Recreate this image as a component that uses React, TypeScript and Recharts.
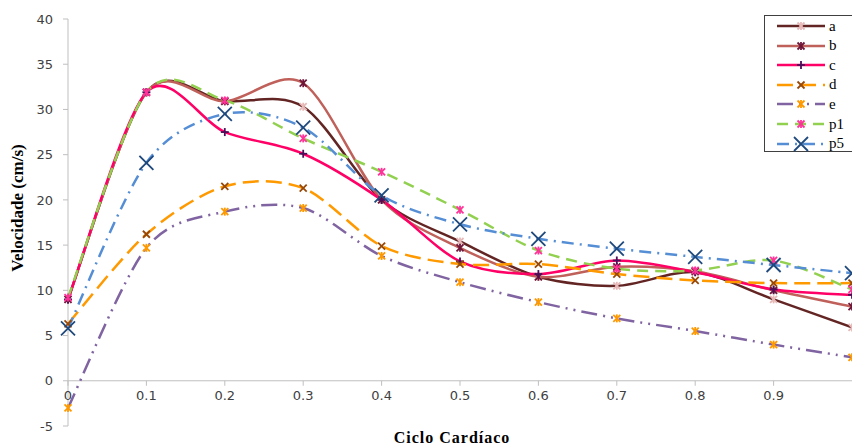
import { LineChart, Line, XAxis, YAxis, ReferenceLine } from 'recharts'

// ciclo cardíaco (fração do ciclo)
const ciclo = [0, 0.1, 0.2, 0.3, 0.4, 0.5, 0.6, 0.7, 0.8, 0.9, 1.0]

const serieA = [9.0, 31.9, 30.9, 30.3, 20.0, 15.4, 11.5, 10.5, 12.0, 9.0, 5.9]
const serieB = [9.0, 31.9, 30.9, 32.9, 20.0, 14.7, 11.5, 12.6, 12.1, 10.0, 8.2]
const serieC = [9.0, 31.9, 27.5, 25.1, 20.0, 13.2, 11.8, 13.3, 12.0, 10.1, 9.5]
const serieD = [6.3, 16.2, 21.5, 21.3, 14.9, 12.9, 12.9, 11.8, 11.1, 10.8, 10.8]
const serieE = [-3.0, 14.7, 18.7, 19.1, 13.8, 10.9, 8.7, 6.9, 5.5, 4.0, 2.6]
const serieP1 = [9.2, 31.9, 31.0, 26.8, 23.1, 18.9, 14.4, 12.4, 12.2, 13.3, 10.1]
const serieP5 = [5.8, 24.1, 29.5, 28.0, 20.5, 17.3, 15.7, 14.6, 13.7, 12.8, 11.9]

const yTicks = [-5, 0, 5, 10, 15, 20, 25, 30, 35, 40]
const xTicks = [0, 0.1, 0.2, 0.3, 0.4, 0.5, 0.6, 0.7, 0.8, 0.9]
const xTickLabels = ['0', '0.1', '0.2', '0.3', '0.4', '0.5', '0.6', '0.7', '0.8', '0.9']

const data = ciclo.map((x, i) => ({
  x, a: serieA[i], b: serieB[i], c: serieC[i], d: serieD[i],
  e: serieE[i], p1: serieP1[i], p5: serieP5[i],
}))

const W = 852
const H = 446
const TOP = 19
const BOTTOM = 20
const PLOT_H = H - TOP - BOTTOM
const ZERO_Y = TOP + PLOT_H * 40 / 45

type Marker = 'plus' | 'star' | 'x' | 'bigx'

const series: { key: string; color: string; dash?: string; marker: Marker; mColor: string }[] = [
  { key: 'a', color: '#632523', marker: 'star', mColor: '#E6B9B8' },
  { key: 'b', color: '#C0605A', marker: 'star', mColor: '#6E1538' },
  { key: 'c', color: '#FF0066', marker: 'plus', mColor: '#4B0F5A' },
  { key: 'd', color: '#FF9900', dash: '16 7', marker: 'x', mColor: '#984807' },
  { key: 'e', color: '#8064A2', dash: '16 6 2 6 2 6', marker: 'star', mColor: '#FF9900' },
  { key: 'p1', color: '#92D050', dash: '11 7', marker: 'star', mColor: '#FF3399' },
  { key: 'p5', color: '#558ED5', dash: '12 6 2 6', marker: 'bigx', mColor: '#1F497D' },
]

// smoothing parecido com o do Excel (Catmull-Rom em bezier)
const excelCurve = (ctx: any) => {
  let pts: number[][] = []
  return {
    areaStart() {}, areaEnd() {},
    lineStart() { pts = [] },
    point(x: number, y: number) { pts.push([+x, +y]) },
    lineEnd() {
      const n = pts.length
      if (!n) return
      ctx.moveTo(pts[0][0], pts[0][1])
      const t = 0.15
      for (let i = 0; i < n - 1; i++) {
        const p0 = pts[Math.max(i - 1, 0)], p1 = pts[i], p2 = pts[i + 1], p3 = pts[Math.min(i + 2, n - 1)]
        ctx.bezierCurveTo(
          p1[0] + (p2[0] - p0[0]) * t, p1[1] + (p2[1] - p0[1]) * t,
          p2[0] - (p3[0] - p1[0]) * t, p2[1] - (p3[1] - p1[1]) * t,
          p2[0], p2[1],
        )
      }
    },
  }
}

function MarkerShape({ cx, cy, kind, color }: { cx: number; cy: number; kind: Marker; color: string }) {
  const s = kind === 'bigx' ? 7 : 3.5
  return (
    <g stroke={color} strokeWidth={1.8} fill="none">
      {(kind === 'x' || kind === 'star' || kind === 'bigx') && (
        <>
          <line x1={cx - s} y1={cy - s} x2={cx + s} y2={cy + s} />
          <line x1={cx - s} y1={cy + s} x2={cx + s} y2={cy - s} />
        </>
      )}
      {(kind === 'star' || kind === 'plus') && <line x1={cx} y1={cy - s - 0.5} x2={cx} y2={cy + s + 0.5} />}
      {kind === 'plus' && <line x1={cx - s - 0.5} y1={cy} x2={cx + s + 0.5} y2={cy} />}
    </g>
  )
}

function XTick({ x, payload }: any) {
  const idx = xTicks.indexOf(payload.value)
  return (
    <g>
      <line x1={x} x2={x} y1={ZERO_Y} y2={ZERO_Y + 5} stroke="#BFBFBF" />
      <text x={x} y={ZERO_Y + 19} textAnchor="middle" fontSize={13} fill="#404040" fontFamily="DejaVu Sans">
        {xTickLabels[idx]}
      </text>
    </g>
  )
}

function LegendBox() {
  return (
    <div style={{
      position: 'absolute', left: 764, top: 15, width: 110, height: 137,
      border: '1px solid #404040', background: '#fff', boxSizing: 'border-box',
    }}>
      {series.map((s, i) => (
        <div key={s.key} style={{ position: 'absolute', left: 0, top: 1 + i * 19.6, height: 18, display: 'flex', alignItems: 'center' }}>
          <svg width={62} height={18}>
            <line x1={12} x2={60} y1={9} y2={9} stroke={s.color} strokeWidth={2.5} strokeDasharray={s.dash} />
            <MarkerShape cx={36} cy={9} kind={s.marker} color={s.mColor} />
          </svg>
          <span style={{ fontFamily: '"Liberation Serif"', fontSize: 15, color: '#000', marginLeft: 2 }}>{s.key}</span>
        </div>
      ))}
    </div>
  )
}

export default function App() {
  return (
    <div style={{ position: 'absolute', left: 0, top: 0, width: W, height: H, overflow: 'hidden', background: '#fff' }}>
      <LineChart width={W} height={H} data={data} margin={{ top: TOP, right: 0, bottom: 0, left: 0 }}>
        <XAxis
          dataKey="x" type="number" domain={[0, 1]} ticks={xTicks} height={BOTTOM}
          axisLine={false} tickLine={false} tick={<XTick />} interval={0}
        />
        <YAxis
          type="number" domain={[-5, 40]} ticks={yTicks} width={68} interval={0}
          axisLine={{ stroke: '#BFBFBF' }} tickLine={{ stroke: '#BFBFBF' }} tickSize={5} tickMargin={10}
          tick={{ fontSize: 13, fill: '#404040', fontFamily: 'DejaVu Sans' }}
        />
        <ReferenceLine y={0} stroke="#BFBFBF" strokeWidth={1} />
        {series.map((s) => (
          <Line
            key={s.key} dataKey={s.key} type={excelCurve as any} stroke={s.color} strokeWidth={2.5}
            strokeDasharray={s.dash} isAnimationActive={false}
            dot={(p: any) => <MarkerShape key={`${s.key}-${p.index}`} cx={p.cx} cy={p.cy} kind={s.marker} color={s.mColor} />}
            activeDot={false}
          />
        ))}
      </LineChart>
      <LegendBox />
      <div style={{
        position: 'absolute', left: 18, top: 208, transform: 'translate(-50%, -50%) rotate(-90deg)',
        fontFamily: '"Liberation Serif"', fontWeight: 'bold', fontSize: 17, whiteSpace: 'nowrap', color: '#000',
      }}>
        Velocidade (cm/s)
      </div>
      <div style={{
        position: 'absolute', left: 452, top: 430, transform: 'translateX(-50%)',
        fontFamily: '"Liberation Serif"', fontWeight: 'bold', fontSize: 16, whiteSpace: 'nowrap', color: '#000',
        letterSpacing: 1, lineHeight: '15px',
      }}>
        Ciclo Cardíaco
      </div>
    </div>
  )
}
